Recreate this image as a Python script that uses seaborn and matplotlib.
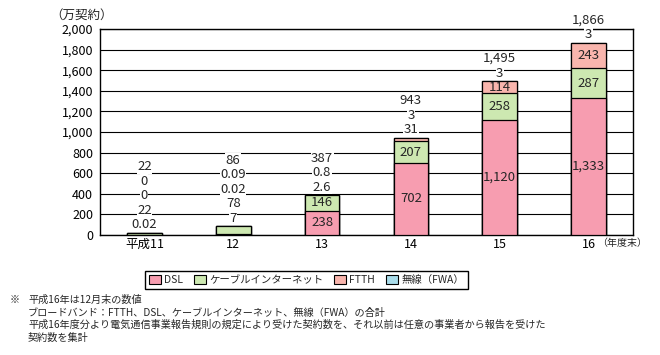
import numpy as np
import pandas as pd
import matplotlib
matplotlib.use('Agg')
import matplotlib.pyplot as plt
import seaborn as sns
from matplotlib.patches import Patch
from matplotlib.ticker import FuncFormatter

sns.set_style('white')
plt.rcParams['font.family'] = ['Noto Sans CJK JP', 'DejaVu Sans']

# data (万契約)
years = ['平成11', '12', '13', '14', '15', '16']
dsl = [0.02, 7, 238, 702, 1120, 1333]
cable = [22, 78, 146, 207, 258, 287]
ftth = [0, 0.02, 2.6, 31, 114, 243]
fwa = [0, 0.09, 0.8, 3, 3, 3]
totals = [22, 86, 387, 943, 1495, 1866]

series_names = ['DSL', 'ケーブルインターネット', 'FTTH', '無線（FWA）']
series_vals = [dsl, cable, ftth, fwa]
colors = ['#f79db0', '#cde8b1', '#f9b5ad', '#a9dcea']

notes = [
    '平成16年は12月末の数値',
    'ブロードバンド：FTTH、DSL、ケーブルインターネット、無線（FWA）の合計',
    '平成16年度分より電気通信事業報告規則の規定により受けた契約数を、それ以前は任意の事業者から報告を受けた',
    '契約数を集計',
]

df = pd.DataFrame(dict(zip(series_names, series_vals)), index=years)
cum = df.cumsum(axis=1)

fig = plt.figure(figsize=(6.6, 3.55), dpi=100)
ax = fig.add_axes([0.1515, 0.338, 0.8075, 0.580])

# stacked bars: draw cumulative heights from the top layer down
for name, col in zip(series_names[::-1], colors[::-1]):
    sns.barplot(x=years, y=cum[name].values, color=col, saturation=1, width=0.39,
                edgecolor='black', linewidth=0.9, ax=ax, order=years, zorder=3)

ax.set_ylim(0, 2000)
ax.set_yticks(range(0, 2001, 200))
ax.yaxis.set_major_formatter(FuncFormatter(lambda v, p: f'{v:,.0f}'))
ax.grid(axis='y', color='black', linewidth=0.8, zorder=0)
ax.set_axisbelow(True)
for s in ax.spines.values():
    s.set_color('black')
    s.set_linewidth(1.0)
ax.tick_params(axis='y', length=0, pad=5, labelsize=9, colors='black')
ax.tick_params(axis='x', which='major', length=0, pad=2, labelsize=9, colors='black')
ax.set_xticks(np.arange(0.5, len(years) - 1, 1), minor=True)
ax.tick_params(axis='x', which='minor', direction='in', length=5, width=1, color='black')
ax.set_xlim(-0.5, len(years) - 0.5)
ax.set_xlabel('')

# value labels
for i in range(len(years)):
    base = 0
    outside = []
    for name in series_names:
        v = df.loc[years[i], name]
        if v >= 100:
            ax.text(i, base + v / 2, f'{v:,g}', ha='center', va='center',
                    fontsize=9.5, zorder=5)
        else:
            outside.append(f'{v:,g}')
        base += v
    outside.append(f'{totals[i]:,g}')
    for k, lab in enumerate(outside):
        ax.annotate(lab, (i, base), xytext=(0, 8 + 14.5 * k),
                    textcoords='offset pixels', ha='center', va='center',
                    fontsize=9.5, zorder=5, annotation_clip=False,
                    bbox=dict(facecolor='white', edgecolor='none', pad=0.3))

fig.text(0.124, 0.958, '（万契約）', ha='center', va='center', fontsize=9)
fig.text(597 / 660, 1 - 243 / 355, '（年度末）', ha='left', va='center', fontsize=7.2)

handles = [Patch(facecolor=c, edgecolor='black', linewidth=0.8) for c in colors]
leg = fig.legend(handles, series_names, loc='center', bbox_to_anchor=(0.464, 0.211),
                 ncol=4, fontsize=7.5, frameon=True, fancybox=False,
                 handlelength=1.2, handleheight=1.0, handletextpad=0.3,
                 columnspacing=1.0, borderpad=0.35, framealpha=1)
leg.get_frame().set_edgecolor('black')
leg.get_frame().set_linewidth(1.0)

fig.text(0.015, 1 - 300 / 355, '※', ha='left', va='center', fontsize=7.3)
for k, line in enumerate(notes):
    fig.text(28 / 660, 1 - (300 + 12.5 * k) / 355, line, ha='left', va='center',
             fontsize=7.3)

fig.savefig('out.png', dpi=100)
